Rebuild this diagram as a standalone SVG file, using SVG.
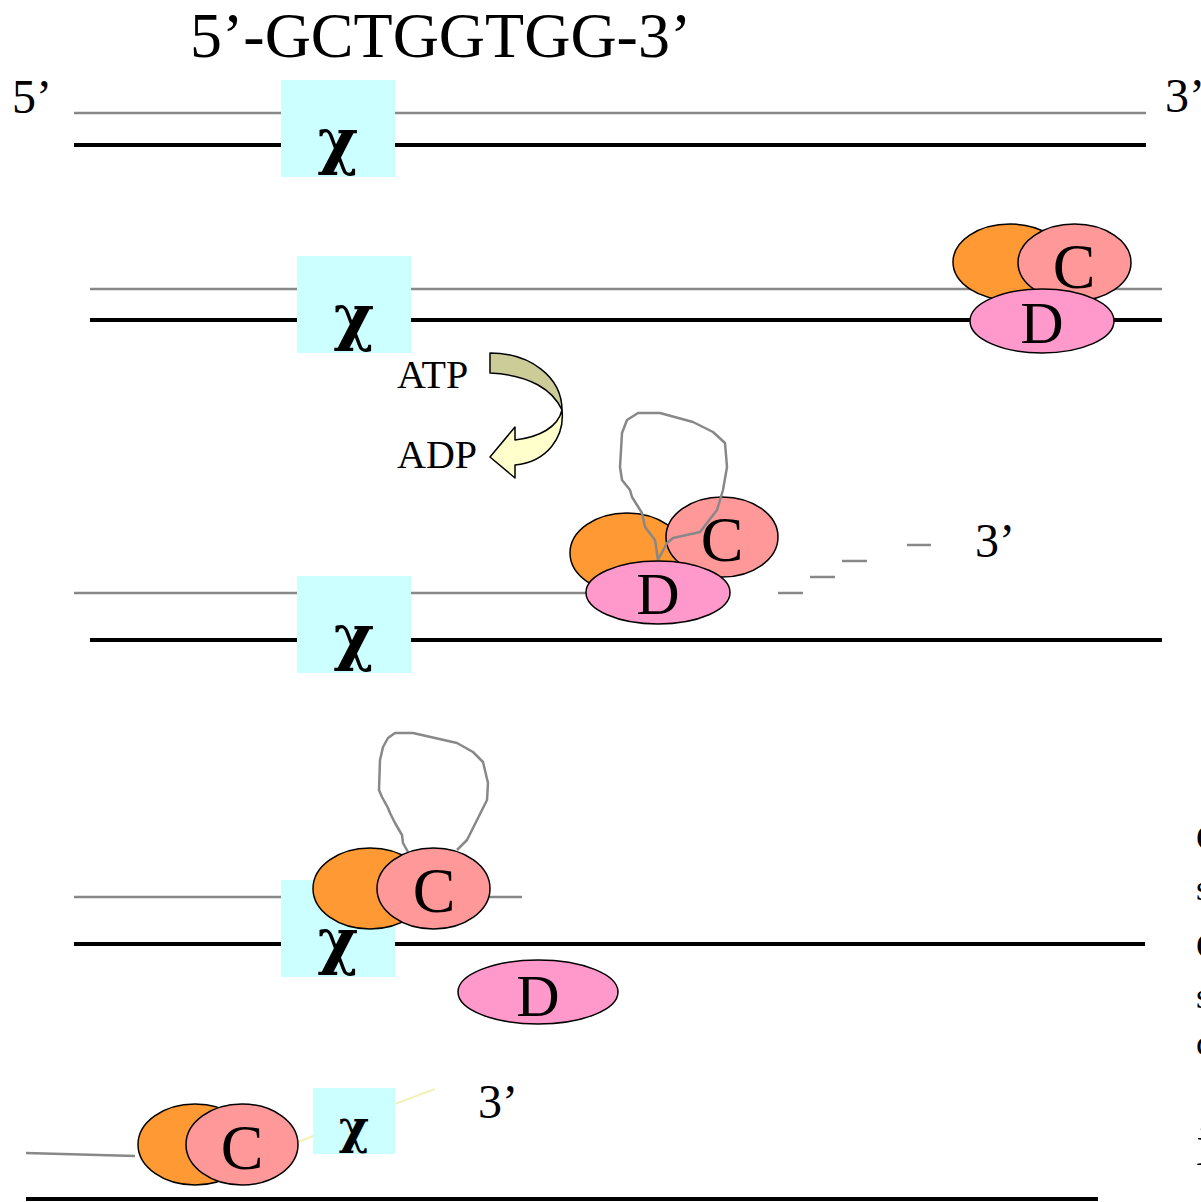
<svg xmlns="http://www.w3.org/2000/svg" width="1201" height="1202" viewBox="0 0 1201 1202">
<style>
.g{stroke:#888;stroke-width:2.5;fill:none}
.k{stroke:#000;stroke-width:4;fill:none}
.box{fill:#ccffff}
.chi{font-family:"DejaVu Serif",serif;font-weight:bold;text-anchor:middle;fill:#000}
.t{font-family:"Liberation Serif",serif;fill:#000}
.m{text-anchor:middle}
.or{fill:#ff9933;stroke:#000;stroke-width:1.5}
.cc{fill:#ff9999;stroke:#000;stroke-width:1.5}
.dd{fill:#ff99cc;stroke:#000;stroke-width:1.5}
.loop{stroke:#888;stroke-width:2.5;fill:none;stroke-linejoin:round}
.y{stroke:#f2f2b8;stroke-width:2;fill:none}
</style>
<rect width="1201" height="1202" fill="#fff"/>

<g id="labels">
<text class="t" x="190" y="57" font-size="64">5’-GCTGGTGG-3’</text>
<text class="t" x="12" y="113" font-size="48">5’</text>
<text class="t" x="1165" y="112" font-size="48">3’</text>
<text class="t" x="975" y="557" font-size="48">3’</text>
<text class="t" x="478" y="1118" font-size="48">3’</text>
<text class="t" x="397" y="388" font-size="40">ATP</text>
<text class="t" x="397" y="468" font-size="40">ADP</text>
<text class="t" x="1196" y="850" font-size="36">C</text>
<text class="t" x="1196" y="900" font-size="36">s</text>
<text class="t" x="1196" y="958" font-size="36">C</text>
<text class="t" x="1196" y="1008" font-size="36">s</text>
<text class="t" x="1196" y="1055" font-size="36">c</text>
<text class="t" x="1196" y="1165" font-size="60">i</text>
</g>

<g id="connectors">
<line class="g" x1="74" y1="113" x2="1146" y2="113"/>
<line class="k" x1="74" y1="145" x2="1146" y2="145"/>
<line class="g" x1="90" y1="289" x2="1162" y2="289"/>
<line class="k" x1="90" y1="320" x2="1162" y2="320"/>
<line class="g" x1="74" y1="593" x2="590" y2="593"/>
<line class="k" x1="90" y1="640" x2="1162" y2="640"/>
<line class="g" x1="778" y1="593" x2="803" y2="593"/>
<line class="g" x1="810" y1="577" x2="835" y2="577"/>
<line class="g" x1="842" y1="561" x2="867" y2="561"/>
<line class="g" x1="907" y1="545" x2="931" y2="545"/>
<line class="g" x1="74" y1="897" x2="522" y2="897"/>
<line class="k" x1="74" y1="944" x2="1145" y2="944"/>
<line class="k" x1="26" y1="1199" x2="1098" y2="1199"/>
<line class="g" x1="26" y1="1153" x2="135" y2="1156"/>
<line class="y" x1="298" y1="1142" x2="313" y2="1136"/>
<line class="y" x1="395" y1="1104" x2="435" y2="1089"/>
</g>

<g id="arrow">
<path d="M490,353 C530,353 562,377 562,410 C553,390 530,375 490,373 Z" fill="#cccc99" stroke="#000" stroke-width="1.5" stroke-linejoin="round"/>
<path d="M562,410 C565,437 547,462 515,465 L515,478 L490,457 L515,427 L515,440 C540,437 558,427 562,410 Z" fill="#ffffcc" stroke="#000" stroke-width="1.5" stroke-linejoin="round"/>
</g>

<g id="chi1">
<rect class="box" x="281" y="80" width="114" height="97"/>
<text class="chi" x="338" y="162" font-size="62">χ</text>
</g>
<g id="chi2">
<rect class="box" x="297" y="256" width="114" height="97"/>
<text class="chi" x="354" y="338" font-size="62">χ</text>
</g>
<g id="chi3">
<rect class="box" x="297" y="576" width="114" height="97"/>
<text class="chi" x="354" y="658" font-size="62">χ</text>
</g>
<g id="chi4">
<rect class="box" x="281" y="880" width="114" height="97"/>
<text class="chi" x="338" y="962" font-size="62">χ</text>
</g>
<g id="chi5">
<rect class="box" x="313" y="1088" width="82" height="66"/>
<text class="chi" x="354" y="1143" font-size="46">χ</text>
</g>

<g id="recbcd2">
<ellipse class="or" cx="1010" cy="262" rx="57" ry="38"/>
<ellipse class="cc" cx="1074.5" cy="262.5" rx="56.5" ry="38.5"/>
<text class="t m" x="1074" y="288" font-size="64">C</text>
<ellipse class="dd" cx="1042" cy="321" rx="72" ry="32"/>
<text class="t m" x="1042" y="343" font-size="60">D</text>
</g>

<g id="recbcd3">
<ellipse class="or" cx="627" cy="553" rx="57" ry="40"/>
<ellipse class="cc" cx="722" cy="537" rx="56" ry="40"/>
<text class="t m" x="722" y="561" font-size="64">C</text>
<path class="loop" d="M658,560 L667,543 L673,538 L700,532 L717,510 L723,490 L727,467 L725,443 L713,432 L693,422 L660,413 L638,413 L627,420 L622,433 L620,467 L622,480 L630,490 L632,497 L642,513 L645,527 L655,540 L658,560"/>
<ellipse class="dd" cx="658" cy="592.5" rx="72" ry="31.5"/>
<text class="t m" x="658" y="614" font-size="60">D</text>
</g>

<g id="recbcd4">
<path class="loop" d="M408,852 L403,843 L402,835 L395,823 L390,813 L388,808 L382,797 L379,790 L380,760 L383,747 L388,738 L395,733 L413,733 L457,743 L473,752 L483,762 L488,783 L487,800 L477,820 L467,840 L457,850"/>
<ellipse class="or" cx="370" cy="888.5" rx="57" ry="40.5"/>
<ellipse class="cc" cx="433.5" cy="888.5" rx="56.5" ry="40.5"/>
<text class="t m" x="434" y="912" font-size="64">C</text>
</g>
<g id="recd4">
<ellipse class="dd" cx="538" cy="992" rx="80" ry="32"/>
<text class="t m" x="538" y="1016" font-size="60">D</text>
</g>

<g id="recbc5">
<ellipse class="or" cx="195" cy="1144.5" rx="57" ry="40.5"/>
<ellipse class="cc" cx="242" cy="1144.5" rx="56" ry="40.5"/>
<text class="t m" x="242" y="1169" font-size="64">C</text>
</g>
</svg>
